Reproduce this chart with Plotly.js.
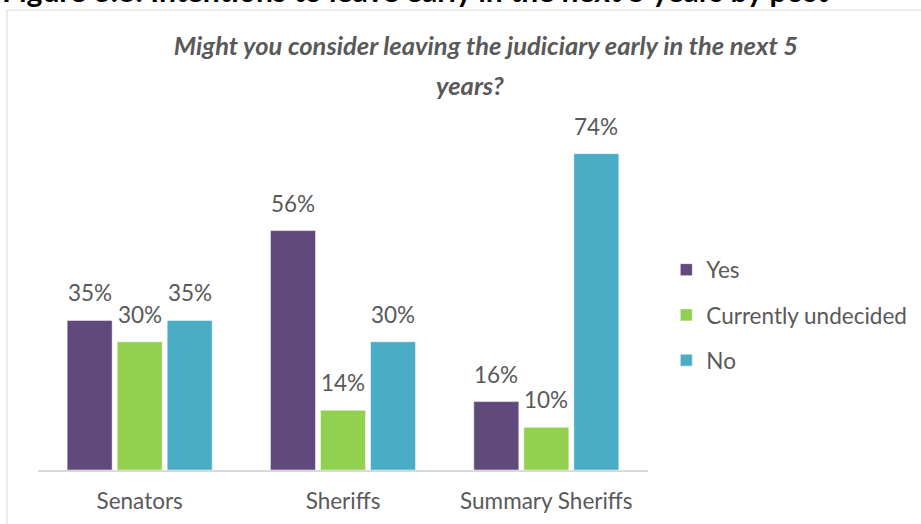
<!DOCTYPE html>
<html>
<head>
<meta charset="utf-8">
<script src="https://cdn.plot.ly/plotly-3.0.1.min.js"></script>
<style>html,body{margin:0;padding:0;background:#fff;}#chart{width:921px;height:524px;}</style>
</head>
<body>
<div id="chart"></div>
<script>
const categories = ["Senators", "Sheriffs", "Summary Sheriffs"];
const seriesNames = ["Yes", "Currently undecided", "No"];
const yesValues = [35, 56, 16];
const undecidedValues = [30, 14, 10];
const noValues = [35, 30, 74];
const colors = ["#604A7B", "#92D050", "#4BACC6"];
const FONT = "Lato, 'Open Sans', sans-serif";
const TXT = "#595959";
const LBL = 22.5;

const allValues = [yesValues, undecidedValues, noValues];
const traces = allValues.map((vals, i) => ({
  type: "bar",
  name: seriesNames[i],
  legendgroup: "g" + i,
  x: categories,
  y: vals,
  marker: {color: colors[i], line: {color: "#ffffff", width: 0.5}},
  hoverinfo: "none"
}));

// value labels placed via the axes' own scales (category + value), shifted to each bar slot
const slotShift = [-50, 0, 50];
const valueLabels = [];
allValues.forEach((vals, i) => {
  vals.forEach((v, j) => {
    valueLabels.push({
      text: v + "%", xref: "x", yref: "y", x: categories[j], y: v,
      xshift: slotShift[i], yshift: 12, xanchor: "center", yanchor: "bottom",
      showarrow: false, font: {family: FONT, size: LBL, color: TXT}
    });
  });
});

const layout = {
  width: 921, height: 524,
  margin: {l: 38, r: 273, t: 128, b: 54, autoexpand: false},
  paper_bgcolor: "#ffffff", plot_bgcolor: "#ffffff",
  barmode: "group", bargap: 0.262, bargroupgap: 0.1,
  font: {family: FONT, color: TXT},
  title: {
    text: "Might you consider leaving the judiciary early in the next 5",
    font: {family: FONT, size: 25.5, color: TXT, style: "italic", weight: "bold"},
    x: 486/921, xref: "container", xanchor: "center",
    y: 1 - 37/524, yref: "container", yanchor: "top"
  },
  xaxis: {
    showgrid: false, showline: true, linecolor: "#d9d9d9", linewidth: 2,
    ticks: "", tickfont: {family: FONT, size: LBL, color: TXT},
    ticklabelstandoff: 10, automargin: false
  },
  yaxis: {range: [0, 80], visible: false, showgrid: false, zeroline: false, automargin: false},
  showlegend: true,
  legend: {
    x: 1.03, xanchor: "left", y: (470-315)/342, yanchor: "middle",
    traceorder: "grouped", tracegroupgap: 13,
    font: {family: FONT, size: LBL, color: TXT},
    itemwidth: 30, bgcolor: "rgba(0,0,0,0)"
  },
  shapes: [{
    type: "rect", xref: "paper", yref: "paper",
    x0: (7-38)/610, x1: 1.6, y0: -0.3, y1: (470-10)/342,
    line: {color: "#d9d9d9", width: 1}, fillcolor: "rgba(0,0,0,0)"
  }],
  annotations: valueLabels.concat([
    {text: "years?", xref: "paper", yref: "paper", x: (470-38)/610, y: (470-85)/342,
     xanchor: "center", yanchor: "middle", showarrow: false,
     font: {family: FONT, size: 25.5, color: TXT, style: "italic", weight: "bold"}},
    {text: "Figure 3.8: Intentions to leave early in the next 5 years by post",
     xref: "paper", yref: "paper", x: (0-38)/610, y: (470+10.5)/342,
     xanchor: "left", yanchor: "middle", showarrow: false,
     font: {family: FONT, size: 30, color: "#000000", weight: "bold"}}
  ])
};

Plotly.newPlot("chart", traces, layout, {displayModeBar: false, staticPlot: true});
</script>
</body>
</html>
